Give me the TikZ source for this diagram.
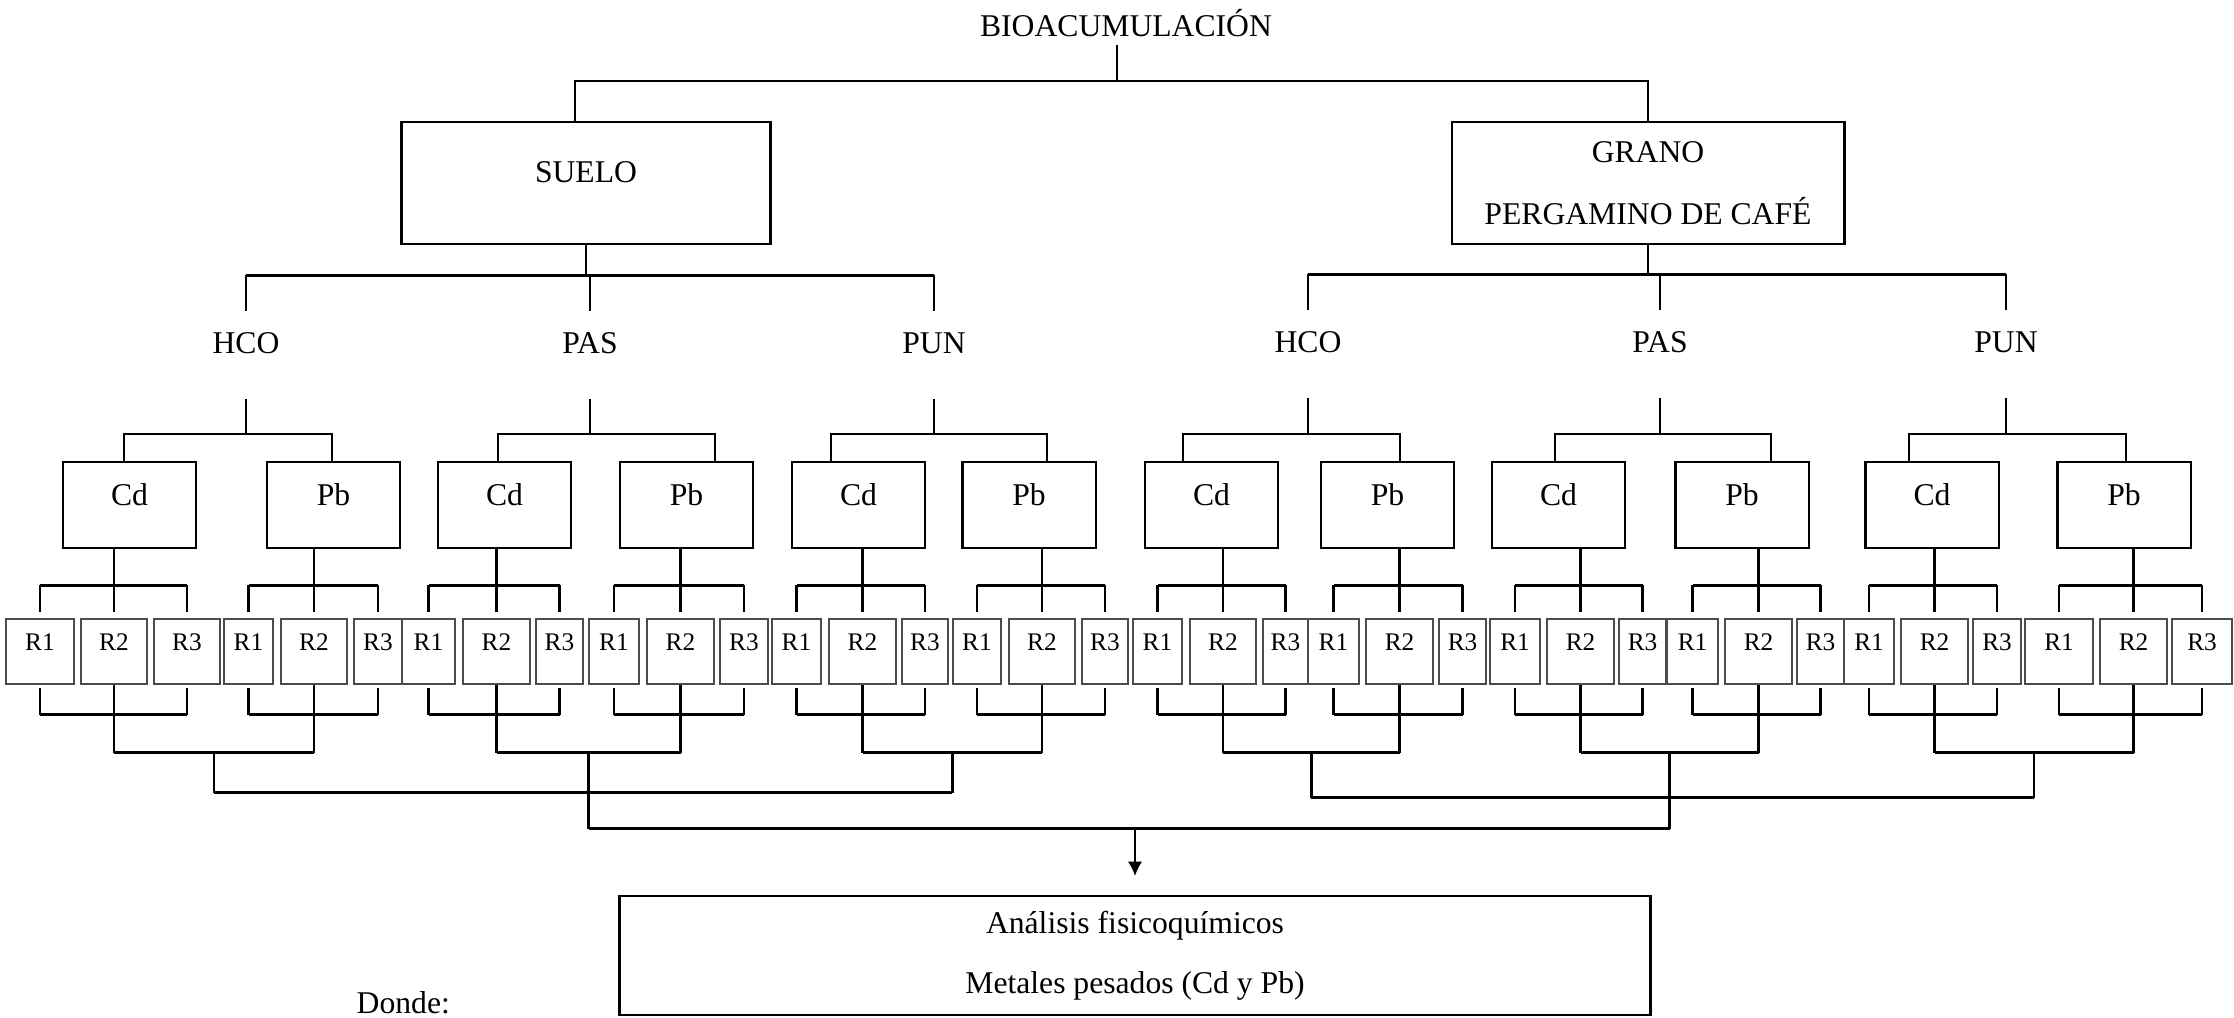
\documentclass[tikz,border=0pt]{standalone}
\usepackage{fontspec}
\setmainfont{Liberation Serif}
\usetikzlibrary{calc,arrows.meta}

\tikzset{
  fina/.style={line width=0.37pt},
  gruesa/.style={line width=0.77pt},
  caja/.style={draw, line width=0.77pt, inner sep=0pt},
  metal/.style={draw, line width=0.6pt, minimum width=1.33cm, minimum height=0.86cm, inner sep=0pt, text depth=0.2cm},
  repe/.style={draw=black!70, line width=0.4pt, minimum height=0.65cm, inner sep=0pt, text depth=0.19cm, font=\fontsize{7.2}{8}\selectfont},
}

\begin{document}
\begin{tikzpicture}[x=0.01cm, y=-0.01cm, font=\fontsize{9}{11}\selectfont]
\useasboundingbox (0,0) rectangle (2234,1017);

\node[inner sep=2pt, anchor=base] (bio) at (1126,36.5) {BIOACUMULACIÓN};
\node[caja, minimum width=3.69cm, minimum height=1.22cm, text depth=0.22cm] (suelo) at (586,183) {SUELO};
\node[caja, minimum width=3.92cm, minimum height=1.22cm, align=center, font=\fontsize{9}{17.6}\selectfont] (grano) at (1648,183) {GRANO\\PERGAMINO DE CAFÉ};

\coordinate (arriba) at (1117,81);
\draw[fina] (bio.south -| arriba) -- (arriba);
\draw[fina] ([xshift=-0.11cm]suelo.north) |- (arriba) -| (grano.north);

% tratamientos
\foreach \n/\x/\y/\txt in {hcoS/246/343/HCO, pasS/590/343/PAS, punS/934/343/PUN,
                           hcoG/1308/342/HCO, pasG/1660/342/PAS, punG/2006/342/PUN}
  \node (\n) at (\x,\y) {\txt};

\draw[fina] (suelo.south) -- ++(0,30) coordinate (bs);
\draw[gruesa] (hcoS |- bs) -- (punS |- bs);
\foreach \n in {hcoS,pasS,punS} \draw[fina, shorten >=2.6pt] (\n |- bs) -- (\n);
\draw[fina] (grano.south) -- ++(0,29) coordinate (bg);
\draw[gruesa] (hcoG |- bg) -- (punG |- bg);
\foreach \n in {hcoG,pasG,punG} \draw[fina, shorten >=2.6pt] (\n |- bg) -- (\n);

% metales y repeticiones
\foreach \caj/\x/\met/\ua/\ub/\va/\vb/\wa/\wb in {
  a1/129.5/Cd/6/74/81/147/154/220,
  a2/333.5/Pb/224/273/281/347/354/402,
  a3/504.5/Cd/402/455/463/530/536/583,
  a4/686.5/Pb/589/639/647/714/720/768,
  a5/858.5/Cd/772/821/829/896/902/948,
  a6/1029/Pb/953/1001/1009/1075/1082/1128,
  b1/1211.5/Cd/1133/1182/1190/1256/1263/1308,
  b2/1387.5/Pb/1308/1359/1366/1433/1439/1486,
  b3/1558.5/Cd/1490/1540/1547/1614/1619/1666,
  b4/1742/Pb/1667/1718/1725/1792/1797/1844,
  b5/1932/Cd/1844/1894/1901/1968/1973/2021,
  b6/2124/Pb/2025/2093/2100/2167/2172/2232}{
  \node[metal] (\caj) at (\x,505) {\met};
  \foreach \rr/\ini/\fin in {1/\ua/\ub, 2/\va/\vb, 3/\wa/\wb}{
    \pgfmathsetmacro\ancho{(\fin-\ini)*0.2845}
    \node[repe, minimum width=\ancho pt] (\caj r\rr) at ({(\ini+\fin)/2},651.5) {R\rr};
  }
  \path (\caj r2.north) ++(0,-33) coordinate (s\caj);
  \draw[gruesa] (\caj r1 |- s\caj) -- (\caj r3 |- s\caj);
  \draw[gruesa, shorten >=1.7pt] (\caj r1 |- s\caj) -- (\caj r1.north);
  \draw[gruesa, shorten >=1.7pt] (\caj r3 |- s\caj) -- (\caj r3.north);
  \draw[gruesa, shorten >=1.7pt] (\caj.south -| \caj r2) -- (\caj r2.north);
  \path (\caj r2.south) ++(0,30) coordinate (i\caj);
  \draw[gruesa] (\caj r1 |- i\caj) -- (\caj r3 |- i\caj);
  \draw[gruesa, shorten >=0.9pt] (\caj r1 |- i\caj) -- (\caj r1.south);
  \draw[gruesa, shorten >=0.9pt] (\caj r3 |- i\caj) -- (\caj r3.south);
  \draw[gruesa] (\caj r2.south) -- ++(0,68) coordinate (k\caj);
}

\foreach \g/\iz/\de/\cd/\pb in {hcoS/124/332/a1/a2, pasS/498/715/a3/a4, punS/831/1047/a5/a6,
                                hcoG/1183/1400/b1/b2, pasG/1555/1771/b3/b4, punG/1909/2126/b5/b6}{
  \coordinate (l\g) at (\iz,434);
  \coordinate (r\g) at (\de,434);
  \draw[fina, shorten <=9.4pt] (\g) -- (\g |- l\g);
  \draw[gruesa] (\cd.north -| l\g) |- (r\g) -- (r\g |- \pb.north);
  \draw[gruesa] (k\cd) -- (k\pb);
  \coordinate (j\g) at ($(k\cd)!0.5!(k\pb)$);
}

% uniones finales
\draw[gruesa] (jhcoS) -- ++(0,40) coordinate (gS);
\draw[gruesa] (jpunS) -- (jpunS |- gS);
\draw[gruesa] (gS) -- (jpunS |- gS);
\draw[gruesa] (jhcoG) -- ++(0,45) coordinate (gG);
\draw[gruesa] (jpunG) -- (jpunG |- gG);
\draw[gruesa] (gG) -- (jpunG |- gG);
\draw[gruesa] (jpasS) -- ++(0,76) coordinate (fin);
\draw[gruesa] (jpasG) -- (jpasG |- fin);
\draw[gruesa] (fin) -- (jpasG |- fin);

\node[caja, line width=0.7pt, minimum width=10.3cm, minimum height=1.19cm, align=center, font=\fontsize{9}{17}\selectfont] (analisis) at (1135,955.5) {Análisis fisicoquímicos\\Metales pesados (Cd y Pb)};
\draw[fina, -{Latex[length=4pt,width=4pt]}, shorten >=5.4pt] (analisis.north |- fin) -- (analisis.north);

\node[anchor=base west, inner sep=0pt] (donde) at (356,1013) {Donde:};
\end{tikzpicture}
\end{document}
